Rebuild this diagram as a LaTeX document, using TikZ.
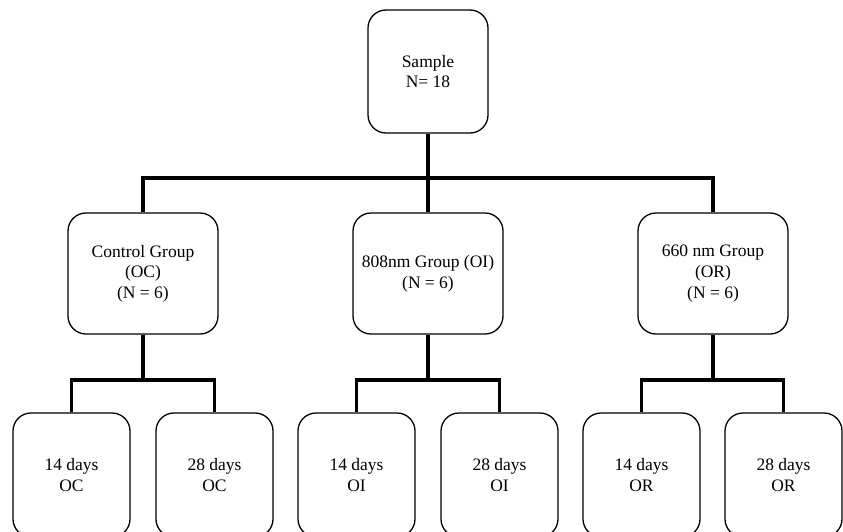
\documentclass[tikz,border=0pt]{standalone}
\usepackage{fontspec}
\setmainfont{Liberation Serif}
\begin{document}
\begin{tikzpicture}[x=1pt,y=-1pt,
  box/.style={draw=black, line width=1.3pt, rounded corners=18pt, align=center,
    inner sep=0pt, font=\fontsize{17.5}{20.7}\selectfont},
  topbox/.style={box, minimum width=120pt, minimum height=123pt},
  grpbox/.style={box, minimum width=150pt, minimum height=121pt},
  subbox/.style={box, minimum width=117pt, minimum height=124pt},
  link/.style={draw=black, line width=3.2pt, line join=miter}]
\useasboundingbox (0,0) rectangle (843,531);
\clip (0,0) rectangle (843,531);
\node[topbox] (sample) at (428,71.5) {Sample\\N= 18};
\node[grpbox] (g1) at (143,273.5) {Control Group\\(OC)\\(N = 6)};
\node[grpbox] (g2) at (428,273.5) {808nm Group (OI)\\(N = 6)};
\node[grpbox] (g3) at (713,273.5) {660 nm Group\\(OR)\\(N = 6)};
\node[subbox] (b11) at (71.5,475) {14 days\\OC};
\node[subbox] (b12) at (214.5,475) {28 days\\OC};
\node[subbox] (b21) at (356.5,475) {14 days\\OI};
\node[subbox] (b22) at (499.5,475) {28 days\\OI};
\node[subbox] (b31) at (641.5,475) {14 days\\OR};
\node[subbox] (b32) at (783.5,475) {28 days\\OR};
\coordinate (h0) at (428,178);
\coordinate (h1) at (143,380);
\coordinate (h2) at (428,380);
\coordinate (h3) at (713,380);
\draw[link] (sample.south) -- (g2.north);
\draw[link] (g1.north) |- (h0) -| (g3.north);
\draw[link] (g1.south) -- (h1);
\draw[link] (b11.north) |- (h1) -| (b12.north);
\draw[link] (g2.south) -- (h2);
\draw[link] (b21.north) |- (h2) -| (b22.north);
\draw[link] (g3.south) -- (h3);
\draw[link] (b31.north) |- (h3) -| (b32.north);
\end{tikzpicture}
\end{document}
